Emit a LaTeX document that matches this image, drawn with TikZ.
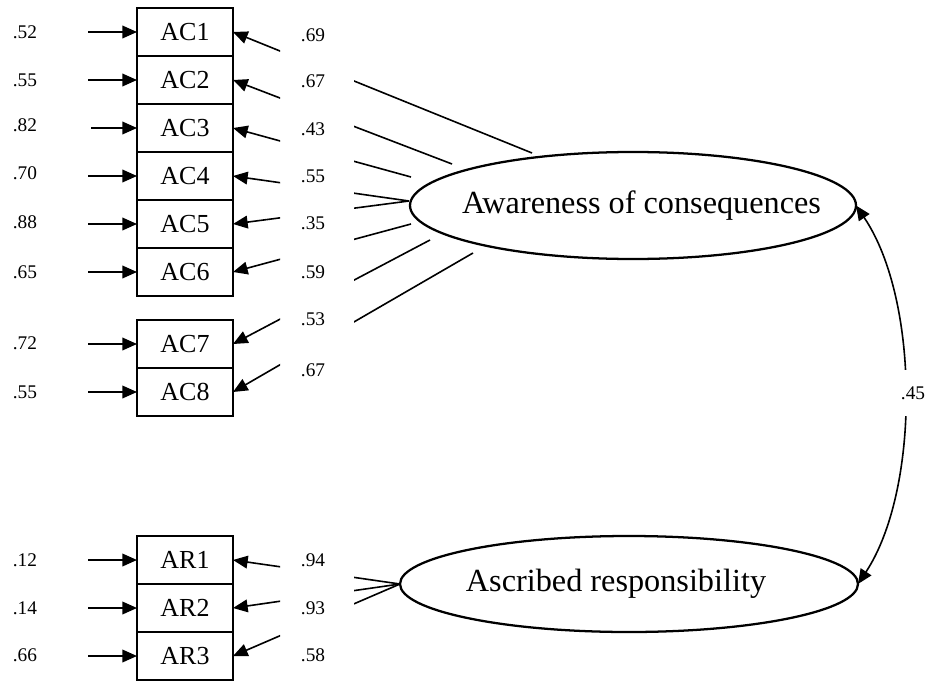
\documentclass[tikz,border=0pt]{standalone}
\usepackage{fontspec}
\setmainfont{Liberation Serif}
\usetikzlibrary{shapes.geometric,arrows.meta,calc}
\begin{document}
\begin{tikzpicture}[x=0.75pt,y=-0.75pt,
  obs/.style={draw,line width=1.1pt,minimum width=72pt,minimum height=36pt,
    inner sep=0pt,outer sep=0pt,font=\fontsize{19.5}{22}\selectfont},
  lat/.style={draw,ellipse,line width=1.7pt,inner sep=0pt,outer sep=0pt,
    font=\fontsize{24.2}{28}\selectfont},
  num/.style={inner sep=0pt,font=\fontsize{14.5}{17}\selectfont},
  arr/.style={line width=1.2pt,-{Triangle[length=11pt,width=9.5pt]}},
  ld/.style={line width=1.2pt,-{Triangle[length=11pt,width=9.5pt]}}
]
\useasboundingbox (0,0) rectangle (930,681);

% observed indicators
\node[obs] (ac1) at (185,32)  {AC1};
\node[obs] (ac2) at (185,80)  {AC2};
\node[obs] (ac3) at (185,128) {AC3};
\node[obs] (ac4) at (185,176) {AC4};
\node[obs] (ac5) at (185,224) {AC5};
\node[obs] (ac6) at (185,272) {AC6};
\node[obs] (ac7) at (185,344) {AC7};
\node[obs] (ac8) at (185,392) {AC8};
\node[obs] (ar1) at (185,560) {AR1};
\node[obs] (ar2) at (185,608) {AR2};
\node[obs] (ar3) at (185,656) {AR3};

% latent factors (zero-width text boxes, set slightly off centre)
\node[lat,minimum width=334.5pt,minimum height=80.25pt] (awc) at (633,205.5)
  {\makebox[0pt]{\hspace*{12.8pt}Awareness of consequences}};
\node[lat,minimum width=343.5pt,minimum height=72pt] (asc) at (629,584)
  {\makebox[0pt]{Ascribed responsibility\hspace*{19.5pt}}};

% error terms (left)
\node[num] (e1) at (25,32)  {.52};
\node[num] (e2) at (25,80)  {.55};
\node[num] (e3) at (25,125) {.82};
\node[num] (e4) at (25,173) {.70};
\node[num] (e5) at (25,222) {.88};
\node[num] (e6) at (25,272) {.65};
\node[num] (e7) at (25,343) {.72};
\node[num] (e8) at (25,392) {.55};
\node[num] (f1) at (25,560) {.12};
\node[num] (f2) at (25,608) {.14};
\node[num] (f3) at (25,655) {.66};

\coordinate (s1) at (88,32);
\coordinate (s2) at (88,80);
\coordinate (s3) at (91,128);
\coordinate (s4) at (88,176);
\coordinate (s5) at (88,224);
\coordinate (s6) at (88,272);
\coordinate (s7) at (88,344);
\coordinate (s8) at (88,392);
\coordinate (t1) at (88,560);
\coordinate (t2) at (88,608);
\coordinate (t3) at (88,656);

\draw[arr] (s1) -- (ac1.west);
\draw[arr] (s2) -- (ac2.west);
\draw[arr] (s3) -- (ac3.west);
\draw[arr] (s4) -- (ac4.west);
\draw[arr] (s5) -- (ac5.west);
\draw[arr] (s6) -- (ac6.west);
\draw[arr] (s7) -- (ac7.west);
\draw[arr] (s8) -- (ac8.west);
\draw[arr] (t1) -- (ar1.west);
\draw[arr] (t2) -- (ar2.west);
\draw[arr] (t3) -- (ar3.west);

% loading values
\node[num] (l1) at (313,35)  {.69};
\node[num] (l2) at (313,81)  {.67};
\node[num] (l3) at (313,129) {.43};
\node[num] (l4) at (313,176) {.55};
\node[num] (l5) at (313,223) {.35};
\node[num] (l6) at (313,272) {.59};
\node[num] (l7) at (313,319) {.53};
\node[num] (l8) at (313,370) {.67};
\node[num] (m1) at (313,560) {.94};
\node[num] (m2) at (313,608) {.93};
\node[num] (m3) at (313,655) {.58};

% start points of the loading paths near the factor
\coordinate (g1) at (532,153);
\coordinate (g2) at (452,164);
\coordinate (g3) at (411,177);
\coordinate (g4) at (409,201);
\coordinate (g5) at (409,201);
\coordinate (g6) at (411,224);
\coordinate (g7) at (430,240);
\coordinate (g8) at (473,253);

% loading paths, broken where the values are printed
\begin{scope}
  \clip (0,0) rectangle (280,681) (354,0) rectangle (930,681);
  \draw[ld] (g1) -- (ac1.east);
  \draw[ld] (g2) -- (ac2.east);
  \draw[ld] (g3) -- (ac3.east);
  \draw[ld] (g4) -- (ac4.east);
  \draw[ld] (g5) -- (ac5.east);
  \draw[ld] (g6) -- (ac6.east);
  \draw[ld] (g7) -- (ac7.east);
  \draw[ld] (g8) -- (ac8.east);
  \draw[ld] (asc.west) -- (ar1.east);
  \draw[ld] (asc.west) -- (ar2.east);
  \draw[ld] (asc.west) -- (ar3.east);
\end{scope}

% factor covariance
\draw[line width=1.2pt,{Triangle[length=11pt,width=9.5pt]}-{Triangle[length=11pt,width=9.5pt]}]
  (awc.east) .. controls (920,300) and (920,490) .. (asc.east);
\node[num,fill=white,inner xsep=2pt,minimum height=34pt] (cv) at (913,393) {.45};
\end{tikzpicture}
\end{document}
